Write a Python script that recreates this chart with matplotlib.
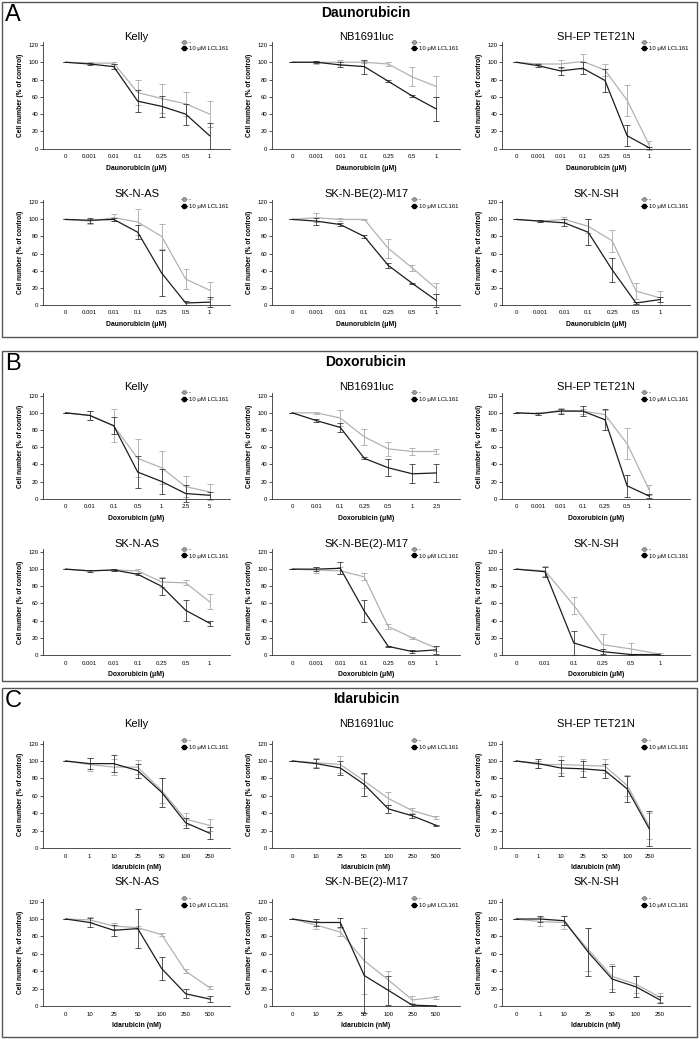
import matplotlib.pyplot as plt
from matplotlib.lines import Line2D
from matplotlib.patches import Rectangle

plt.rcParams['font.family'] = ['Liberation Sans', 'DejaVu Sans']

cell_lines = ["Kelly", "NB1691luc", "SH-EP TET21N", "SK-N-AS", "SK-N-BE(2)-M17", "SK-N-SH"]
legend_labels = ["-", "10 \u03bcM LCL161"]

# ---- Daunorubicin (uM) ----
dauno_label = "Daunorubicin (\u03bcM)"
dauno_doses = {c: ["0", "0.001", "0.01", "0.1", "0.25", "0.5", "1"] for c in cell_lines}
dauno_ctrl = {
    "Kelly":          [100, 99, 99, 65, 58, 52, 40],
    "NB1691luc":      [100, 100, 100, 100, 98, 83, 72],
    "SH-EP TET21N":   [100, 98, 98, 101, 91, 56, 4],
    "SK-N-AS":        [100, 98, 102, 97, 80, 30, 17],
    "SK-N-BE(2)-M17": [100, 102, 100, 100, 66, 43, 19],
    "SK-N-SH":        [100, 98, 100, 92, 75, 16, 8],
}
dauno_ctrl_err = {
    "Kelly":          [0, 1, 1, 15, 17, 14, 15],
    "NB1691luc":      [0, 2, 3, 1, 2, 11, 12],
    "SH-EP TET21N":   [0, 1, 5, 9, 7, 18, 5],
    "SK-N-AS":        [0, 3, 4, 15, 15, 12, 10],
    "SK-N-BE(2)-M17": [0, 5, 2, 1, 11, 4, 6],
    "SK-N-SH":        [0, 1, 3, 8, 13, 9, 8],
}
dauno_lcl = {
    "Kelly":          [100, 98, 95, 55, 49, 40, 15],
    "NB1691luc":      [100, 100, 97, 95, 78, 61, 46],
    "SH-EP TET21N":   [100, 96, 90, 93, 79, 15, 1],
    "SK-N-AS":        [100, 99, 100, 85, 37, 2, 3],
    "SK-N-BE(2)-M17": [100, 98, 94, 80, 46, 25, 5],
    "SK-N-SH":        [100, 98, 96, 85, 41, 2, 6],
}
dauno_lcl_err = {
    "Kelly":          [0, 1, 3, 13, 12, 12, 15],
    "NB1691luc":      [0, 1, 3, 8, 1, 1, 14],
    "SH-EP TET21N":   [0, 2, 5, 7, 13, 12, 1],
    "SK-N-AS":        [0, 3, 2, 8, 27, 2, 6],
    "SK-N-BE(2)-M17": [0, 4, 2, 2, 3, 1, 8],
    "SK-N-SH":        [0, 1, 4, 15, 14, 1, 3],
}

# ---- Doxorubicin (uM) ----
doxo_label = "Doxorubicin (\u03bcM)"
doxo_doses = {
    "Kelly":          ["0", "0.01", "0.1", "0.5", "1", "2.5", "5"],
    "NB1691luc":      ["0", "0.01", "0.1", "0.25", "0.5", "1", "2.5"],
    "SH-EP TET21N":   ["0", "0.001", "0.01", "0.1", "0.25", "0.5", "1"],
    "SK-N-AS":        ["0", "0.001", "0.01", "0.1", "0.25", "0.5", "1"],
    "SK-N-BE(2)-M17": ["0", "0.001", "0.01", "0.1", "0.25", "0.5", "1"],
    "SK-N-SH":        ["0", "0.01", "0.1", "0.25", "0.5", "1"],
}
doxo_ctrl = {
    "Kelly":          [100, 97, 85, 47, 36, 14, 8],
    "NB1691luc":      [100, 100, 94, 72, 58, 55, 55],
    "SH-EP TET21N":   [100, 99, 103, 102, 98, 64, 10],
    "SK-N-AS":        [100, 98, 99, 98, 85, 84, 62],
    "SK-N-BE(2)-M17": [100, 99, 98, 91, 33, 20, 8],
    "SK-N-SH":        [100, 98, 58, 12, 7, 1],
}
doxo_ctrl_err = {
    "Kelly":          [0, 5, 19, 22, 19, 12, 9],
    "NB1691luc":      [0, 1, 9, 9, 8, 4, 3],
    "SH-EP TET21N":   [0, 2, 3, 3, 5, 18, 6],
    "SK-N-AS":        [0, 1, 1, 2, 6, 3, 9],
    "SK-N-BE(2)-M17": [0, 3, 4, 4, 3, 1, 3],
    "SK-N-SH":        [0, 6, 10, 12, 7, 1],
}
doxo_lcl = {
    "Kelly":          [100, 97, 85, 31, 20, 6, 4],
    "NB1691luc":      [100, 91, 83, 47, 36, 29, 30],
    "SH-EP TET21N":   [100, 99, 102, 102, 92, 15, 3],
    "SK-N-AS":        [100, 98, 99, 94, 80, 52, 37],
    "SK-N-BE(2)-M17": [100, 100, 101, 51, 10, 4, 6],
    "SK-N-SH":        [100, 97, 14, 4, 0.5, 0.5],
}
doxo_lcl_err = {
    "Kelly":          [0, 5, 10, 19, 15, 10, 4],
    "NB1691luc":      [0, 2, 5, 1, 10, 11, 10],
    "SH-EP TET21N":   [0, 1, 3, 6, 12, 13, 2],
    "SK-N-AS":        [0, 1, 1, 1, 10, 12, 3],
    "SK-N-BE(2)-M17": [0, 2, 7, 13, 1, 2, 5],
    "SK-N-SH":        [0, 6, 14, 3, 0, 0],
}

# ---- Idarubicin (nM) ----
ida_label = "Idarubicin (nM)"
ida_doses = {
    "Kelly":          ["0", "1", "10", "25", "50", "100", "250"],
    "NB1691luc":      ["0", "10", "25", "50", "100", "250", "500"],
    "SH-EP TET21N":   ["0", "1", "10", "25", "50", "100", "250"],
    "SK-N-AS":        ["0", "10", "25", "50", "100", "250", "500"],
    "SK-N-BE(2)-M17": ["0", "10", "25", "50", "100", "250", "500"],
    "SK-N-SH":        ["0", "1", "10", "25", "50", "100", "250"],
}
ida_ctrl = {
    "Kelly":          [100, 96, 93, 93, 66, 33, 26],
    "NB1691luc":      [100, 98, 96, 77, 57, 43, 35],
    "SH-EP TET21N":   [100, 96, 96, 95, 94, 72, 25],
    "SK-N-AS":        [100, 99, 92, 90, 82, 40, 21],
    "SK-N-BE(2)-M17": [100, 93, 85, 52, 30, 7, 10],
    "SK-N-SH":        [100, 97, 96, 65, 34, 25, 10],
}
ida_ctrl_err = {
    "Kelly":          [0, 7, 9, 8, 14, 7, 7],
    "NB1691luc":      [0, 5, 10, 8, 7, 3, 2],
    "SH-EP TET21N":   [0, 4, 10, 7, 8, 12, 15],
    "SK-N-AS":        [0, 3, 3, 2, 2, 2, 2],
    "SK-N-BE(2)-M17": [0, 5, 5, 38, 10, 4, 2],
    "SK-N-SH":        [0, 5, 8, 25, 14, 10, 5],
}
ida_lcl = {
    "Kelly":          [100, 97, 97, 89, 64, 29, 17],
    "NB1691luc":      [100, 97, 92, 73, 45, 37, 26],
    "SH-EP TET21N":   [100, 97, 92, 91, 89, 68, 22],
    "SK-N-AS":        [100, 96, 87, 89, 43, 14, 8],
    "SK-N-BE(2)-M17": [100, 96, 96, 35, 18, 1, 0],
    "SK-N-SH":        [100, 100, 98, 62, 31, 22, 7],
}
ida_lcl_err = {
    "Kelly":          [0, 6, 10, 8, 17, 6, 7],
    "NB1691luc":      [0, 5, 8, 13, 5, 2, 1],
    "SH-EP TET21N":   [0, 5, 9, 9, 8, 15, 20],
    "SK-N-AS":        [0, 5, 6, 22, 13, 5, 3],
    "SK-N-BE(2)-M17": [0, 4, 5, 43, 17, 1, 0],
    "SK-N-SH":        [0, 4, 5, 28, 15, 12, 4],
}

drugs = [
    ("A", "Daunorubicin", dauno_label, dauno_doses, dauno_ctrl, dauno_ctrl_err, dauno_lcl, dauno_lcl_err),
    ("B", "Doxorubicin", doxo_label, doxo_doses, doxo_ctrl, doxo_ctrl_err, doxo_lcl, doxo_lcl_err),
    ("C", "Idarubicin", ida_label, ida_doses, ida_ctrl, ida_ctrl_err, ida_lcl, ida_lcl_err),
]

# ---- layout in pixels (700 x 1039) ----
W, H = 700, 1039
col_span = [(43, 230), (272, 460), (502, 690)]
# first / last category position per cell line
cat_span = {
    "Kelly": (65.7, 209.7), "SK-N-AS": (65.7, 209.7),
    "NB1691luc": (292.3, 436.3), "SK-N-BE(2)-M17": (292.3, 436.3),
    "SH-EP TET21N": (516.3, 649.3), "SK-N-SH": (516.3, 660.0),
}
# box top, box bottom, row0 axes top/bottom, row1 axes top/bottom, title pad
panel_pos = [
    (2, 337, (42.4, 148.7), (199.8, 304.7), 2),
    (351, 681, (393.1, 498.7), (549.4, 655.0), 2),
    (688, 1037, (741, 848), (899, 1006), 10),
]

GREY = '#b2b2b2'
GREY_ERR = '#a8a8a8'
BLACK = '#1c1c1c'
BLACK_ERR = '#3a3a3a'

fig = plt.figure(figsize=(W / 100, H / 100), dpi=100)


def px_axes(left, top, right, bottom):
    return fig.add_axes([left / W, 1 - bottom / H, (right - left) / W, (bottom - top) / H])


for p, (letter, drug, xlabel, doses, ctrl, ctrl_err, lcl, lcl_err) in enumerate(drugs):
    box_top, box_bot, row0, row1, tpad = panel_pos[p]
    fig.add_artist(Rectangle((2 / W, 1 - box_bot / H), 695 / W, (box_bot - box_top) / H,
                             transform=fig.transFigure, fill=False, ec='#555555', lw=1.0))
    fig.text(5 / W, 1 - (box_top + 2) / H, letter, fontsize=17, va='top', ha='left')
    fig.text(366 / W, 1 - (box_top + 11) / H, drug, fontsize=10, fontweight='bold',
             ha='center', va='center')

    for i, cell in enumerate(cell_lines):
        row, col = divmod(i, 3)
        top, bot = (row0, row1)[row]
        left, right = col_span[col]
        ax = px_axes(left, top, right, bot)

        labels = doses[cell]
        n = len(labels)
        x = list(range(n))
        first, last = cat_span[cell]
        step = (last - first) / (n - 1)
        ax.set_xlim(-(first - left) / step, (n - 1) + (right - last) / step)
        ax.set_ylim(0, 123)

        ax.errorbar(x, ctrl[cell], yerr=ctrl_err[cell], color=GREY, ecolor=GREY_ERR,
                    lw=0.9, elinewidth=0.6, capsize=2.2, capthick=0.6, clip_on=False, zorder=2)
        ax.errorbar(x, lcl[cell], yerr=lcl_err[cell], color=BLACK, ecolor=BLACK_ERR,
                    lw=0.9, elinewidth=0.6, capsize=2.2, capthick=0.6, clip_on=False, zorder=3)

        ax.set_xticks(x)
        ax.set_xticklabels(labels)
        ax.set_yticks([0, 20, 40, 60, 80, 100, 120])
        ax.tick_params(axis='y', length=2, width=0.6, labelsize=4.3, pad=1.2, color='#333333')
        ax.tick_params(axis='x', length=0, labelsize=4.3, pad=4)
        for s in ['top', 'right']:
            ax.spines[s].set_visible(False)
        for s in ['left', 'bottom']:
            ax.spines[s].set_linewidth(0.6)
            ax.spines[s].set_color('#333333')

        ax.set_title(cell, fontsize=8, pad=tpad)
        ax.set_ylabel("Cell number (% of control)", fontsize=4.8, fontweight='bold', labelpad=3)
        ax.set_xlabel(xlabel, fontsize=4.9, fontweight='bold', labelpad=4)

        handles = [
            Line2D([0], [0], color=GREY, lw=0.8, marker='o', markersize=3,
                   mfc='#9a9a9a', mec='#6a6a6a', mew=0.4),
            Line2D([0], [0], color=BLACK, lw=0.8, marker='o', markersize=3,
                   mfc='black', mec='black'),
        ]
        ax.legend(handles, legend_labels, loc='upper left', bbox_to_anchor=(0.72, 1.06),
                  frameon=False, fontsize=4.3, handlelength=1.0, handletextpad=0.3,
                  labelspacing=0.25, borderpad=0.1)

fig.savefig("out.png", dpi=100)
